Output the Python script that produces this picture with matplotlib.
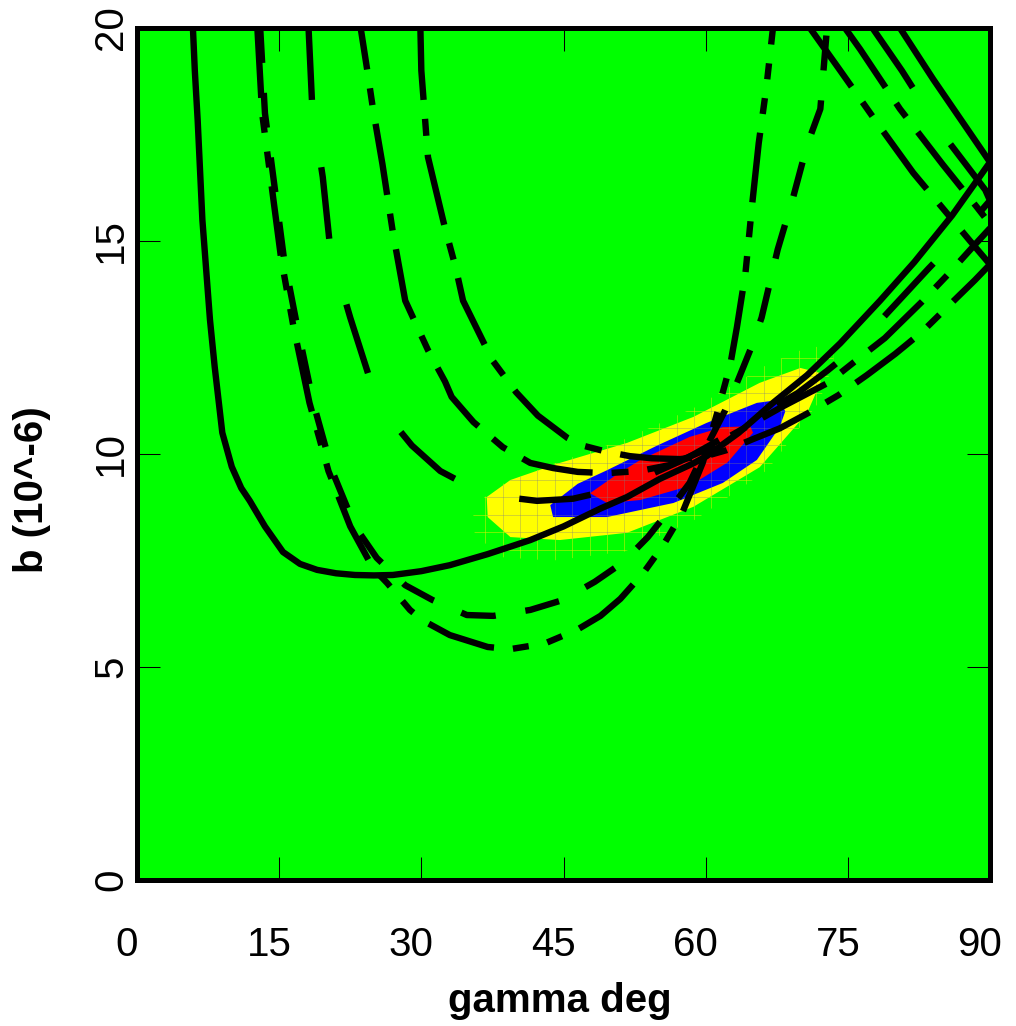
import numpy as np
import matplotlib
matplotlib.use("Agg")
import matplotlib.pyplot as plt
from matplotlib.patches import Polygon
import matplotlib.transforms as mtransforms

plt.rcParams['font.family'] = ['Liberation Sans', 'DejaVu Sans']
plt.rcParams['lines.scale_dashes'] = False

# ---------------- data (gamma [deg], b [10^-6]) ----------------
x_ticks = [0, 15, 30, 45, 60, 75, 90]
y_ticks = [0, 5, 10, 15, 20]

# confidence regions
yellow_g = [36.9, 39.4, 44.6, 51.7, 58.7, 65.7, 70.0, 72.1, 72.1, 70.7, 65.7, 58.7, 51.7, 44.6, 39.4, 37.0]
yellow_b = [8.99, 9.39, 9.79, 10.26, 10.87, 11.67, 12.02, 11.90, 11.67, 10.96, 9.69, 8.76, 8.15, 7.98, 8.05, 8.52]
blue_g = [43.6, 46.5, 49.6, 54.9, 60.1, 65.4, 67.8, 68.4, 67.8, 65.4, 61.8, 56.6, 49.6, 43.9]
blue_b = [8.8, 9.3, 9.62, 10.2, 10.73, 11.2, 11.27, 11.0, 10.63, 9.86, 9.32, 8.85, 8.52, 8.52]
red_g = [47.8, 50.5, 53.1, 58.3, 61.8, 64.7, 65.0, 62.3, 58.3, 53.1, 49.6]
red_b = [9.08, 9.5, 9.86, 10.4, 10.63, 10.65, 10.5, 9.8, 9.25, 8.92, 8.85]

# solid curve (U shape)
s1_g = [5.9, 6.1, 6.4, 6.9, 7.7, 8.2, 9.0, 10.0, 11.0, 11.9, 13.5, 15.4, 17.2, 19.0, 21.0, 23.0,
        25.0, 27.0, 30.0, 33.0, 37.0, 41.5, 45.0, 48.9, 51.7, 55.2, 58.7, 60.1, 63.5, 67.1, 70.7,
        74.2, 78.4, 82.0, 86.0, 90.0]
s1_b = [20.0, 19.0, 17.84, 15.49, 13.15, 12.04, 10.5, 9.7, 9.2, 8.9, 8.3, 7.7, 7.42, 7.28, 7.2, 7.16,
        7.15, 7.16, 7.25, 7.39, 7.65, 7.98, 8.3, 8.72, 8.99, 9.42, 9.78, 9.95, 10.5, 11.2, 11.85,
        12.6, 13.6, 14.5, 15.6, 16.85]
# solid descending branch
s2_g = [80.5, 84.0, 90.0]
s2_b = [20.0, 18.8, 16.85]

# lower U (long dash + two short dashes)
c2_g = [12.7, 13.2, 14.2, 15.2, 16.5, 18.2, 20.2, 22.5, 24.9, 26.4, 28.8, 30.1, 33.0, 37.0, 39.4,
        43.0, 46.4, 48.9, 51.0, 53.4, 55.5, 57.5, 59.7, 61.2, 62.6, 63.3, 64.2, 64.9, 65.6, 66.4, 67.1]
c2_b = [20.0, 18.0, 16.3, 14.6, 13.0, 11.2, 9.6, 8.3, 7.32, 6.97, 6.34, 6.1, 5.75, 5.47, 5.42,
        5.55, 5.87, 6.2, 6.6, 7.2, 7.85, 8.6, 9.8, 10.95, 12.1, 12.98, 14.25, 15.85, 17.3, 18.6, 20.0]

# upper U (medium dashes)
c3_g = [13.0, 13.5, 14.5, 15.5, 16.9, 18.6, 20.6, 23.0, 25.3, 28.3, 31.2, 34.8, 37.6, 41.5, 44.9,
        48.3, 51.3, 53.9, 56.2, 58.3, 60.5, 62.0, 63.3, 64.7, 65.9, 67.6, 69.2, 70.7, 72.1, 72.8]
c3_b = [20.0, 18.0, 16.3, 14.6, 13.0, 11.2, 9.6, 8.3, 7.56, 6.92, 6.57, 6.22, 6.2, 6.34, 6.57,
        7.0, 7.46, 8.05, 8.69, 9.32, 10.35, 11.0, 11.67, 12.44, 13.2, 14.8, 16.0, 17.25, 18.1, 20.0]

# curve starting at gamma ~30 (dash-dot)
c4_g = [29.9, 30.0, 30.7, 32.5, 33.6, 34.4, 36.7, 37.5, 40.0, 42.3, 45.4, 47.0, 49.6, 52.0, 54.3,
        57.3, 60.0, 62.2, 65.0, 67.8, 70.8, 74.0, 77.0, 80.0, 82.8, 85.5, 88.4, 90.0]
c4_b = [20.0, 19.0, 16.97, 15.3, 14.4, 13.6, 12.56, 12.2, 11.45, 10.9, 10.38, 10.2, 10.05, 9.95, 9.9,
        9.88, 9.95, 10.09, 10.35, 10.6, 10.96, 11.38, 11.85, 12.35, 12.86, 13.45, 14.08, 14.45]

# curve starting at gamma ~18 (long dashes)
c5_g = [18.1, 18.5, 19.6, 20.4, 22.5, 24.8, 26.8, 29.0, 32.0, 34.8, 38.5, 42.2, 46.0, 49.9, 54.0,
        58.0, 62.0, 66.0, 69.7, 72.8, 75.8, 78.3, 80.8, 83.5, 86.1, 90.0]
c5_b = [20.0, 18.1, 16.5, 14.8, 13.2, 11.6, 10.8, 10.2, 9.6, 9.27, 9.0, 8.9, 8.95, 9.15, 9.5,
        9.9, 10.4, 10.95, 11.43, 11.95, 12.49, 13.1, 13.7, 14.35, 14.95, 15.95]

# curve starting at gamma ~24 (dash-dot)
c6_g = [23.6, 24.3, 24.9, 25.9, 27.0, 28.3, 30.7, 32.5, 33.2, 35.5, 38.6, 41.5, 43.9, 46.5, 49.6,
        53.0, 56.2, 60.0, 64.0, 68.0, 72.9, 75.9, 78.9, 82.8, 85.5, 88.1, 90.0]
c6_b = [20.0, 19.0, 18.1, 16.8, 15.2, 13.6, 12.44, 11.7, 11.34, 10.75, 10.16, 9.79, 9.67, 9.58, 9.55,
        9.6, 9.74, 10.1, 10.6, 11.1, 11.67, 12.2, 12.72, 13.57, 14.2, 14.84, 15.3]

# descending branches from the top edge
da_g = [77.6, 80.7, 84.7, 89.5, 90.0]
da_b = [20.0, 19.0, 17.6, 16.2, 15.95]
db_g = [74.7, 76.3, 80.5, 85.0, 88.6, 90.0]
db_b = [20.0, 19.5, 18.1, 16.8, 15.8, 15.4]
d2_g = [71.0, 74.2, 78.0, 81.9, 87.9, 90.0]
d2_b = [20.0, 19.0, 17.8, 16.6, 15.0, 14.45]

# ---------------- styles ----------------
GREEN = '#00ff00'
LW = 4.6
px = 0.72  # points per pixel at 100 dpi
dash_med = (0, (35 * px, 30 * px))
dash_long = (0, (72 * px, 68 * px))
dash_dot = (0, (72 * px, 19 * px, 17 * px, 19 * px))
dash_dot2 = (0, (70 * px, 19 * px, 16 * px, 19 * px, 16 * px, 19 * px))

fig = plt.figure(figsize=(10.16, 10.26), dpi=100)
ax = fig.add_axes([137 / 1016, 1 - 880 / 1026, (990 - 137) / 1016, (880 - 28) / 1026])
ax.set_facecolor(GREEN)
ax.set_xlim(0, 90)
ax.set_ylim(0, 20)

# grid-cell seams around the regions
yc = (np.mean(yellow_g), np.mean(yellow_b))
exp_g = [yc[0] + 1.08 * (g - yc[0]) for g in yellow_g]
exp_b = [yc[1] + 1.25 * (b - yc[1]) for b in yellow_b]
gx = np.arange(0, 50) * 90 / 49
gy = np.arange(0, 50) * 20 / 49

outer = Polygon(np.column_stack([exp_g, exp_b]), closed=True, facecolor='none', edgecolor='none')
ax.add_patch(outer)
for g in gx:
    l, = ax.plot([g, g], [0, 20], color='#e0f000', lw=0.6, alpha=0.6, zorder=2)
    l.set_clip_path(outer)
for b in gy:
    l, = ax.plot([0, 90], [b, b], color='#e0f000', lw=0.6, alpha=0.6, zorder=2)
    l.set_clip_path(outer)

ax.add_patch(Polygon(np.column_stack([yellow_g, yellow_b]), closed=True, facecolor='#ffff00',
                     edgecolor='none', zorder=3))
ax.add_patch(Polygon(np.column_stack([blue_g, blue_b]), closed=True, facecolor='#0000ff',
                     edgecolor='none', zorder=4))
ax.add_patch(Polygon(np.column_stack([red_g, red_b]), closed=True, facecolor='#ff0000',
                     edgecolor='none', zorder=5))
inner = Polygon(np.column_stack([yellow_g, yellow_b]), closed=True, facecolor='none', edgecolor='none')
ax.add_patch(inner)
for g in gx:
    l, = ax.plot([g, g], [0, 20], color='#808080', lw=0.6, alpha=0.4, zorder=6)
    l.set_clip_path(inner)
for b in gy:
    l, = ax.plot([0, 90], [b, b], color='#808080', lw=0.6, alpha=0.4, zorder=6)
    l.set_clip_path(inner)

kw = dict(color='black', lw=LW, zorder=10, solid_capstyle='butt', dash_capstyle='butt')
ax.plot(s1_g, s1_b, ls='-', **kw)
ax.plot(s2_g, s2_b, ls='-', **kw)
ax.plot(c2_g, c2_b, ls=dash_dot2, **kw)
ax.plot(c3_g, c3_b, ls=dash_med, **kw)
ax.plot(c4_g, c4_b, ls=dash_dot, **kw)
ax.plot(c5_g, c5_b, ls=dash_long, **kw)
ax.plot(c6_g, c6_b, ls=(30 * px, (72 * px, 19 * px, 17 * px, 19 * px)), **kw)
ax.plot(da_g, da_b, ls=dash_long, **kw)
ax.plot(db_g, db_b, ls=dash_dot, **kw)
ax.plot(d2_g, d2_b, ls=dash_dot, **kw)

# axes styling
for sp in ax.spines.values():
    sp.set_linewidth(3.6)
    sp.set_zorder(20)
ax.set_xticks(x_ticks)
ax.set_yticks(y_ticks)
ax.set_xticklabels([str(v) for v in x_ticks])
ax.set_yticklabels([str(v) for v in y_ticks], rotation=90, va='center')
ax.tick_params(direction='in', length=16.5, width=0.75, top=True, right=True,
               labelsize=29, zorder=21)
ax.tick_params(axis='x', pad=33)
ax.tick_params(axis='y', pad=5)
shift = mtransforms.ScaledTranslation(-10 / 100, 0, fig.dpi_scale_trans)
for lab in ax.get_xticklabels():
    lab.set_transform(lab.get_transform() + shift)

fig.text(560 / 1016, 1 - 1001 / 1026, 'gamma deg', ha='center', va='center',
         fontsize=29, fontweight='bold')
fig.text(32 / 1016, 1 - 490 / 1026, 'b (10^-6)', ha='center', va='center',
         fontsize=29, fontweight='bold', rotation=90)

fig.savefig('out.png', dpi=100)
